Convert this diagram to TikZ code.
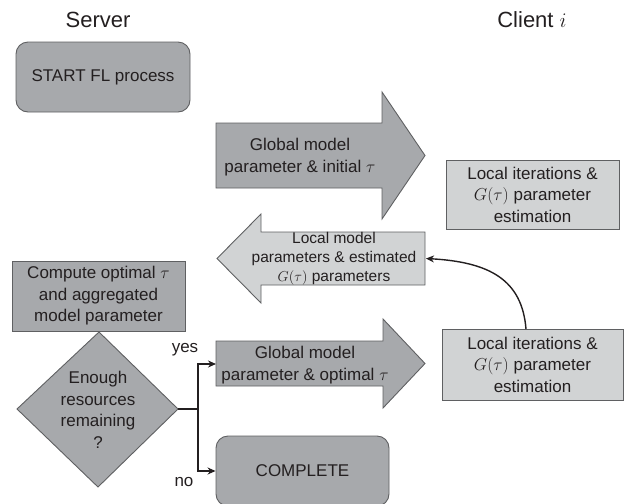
\documentclass[tikz,border=0pt]{standalone}
\usepackage{fontspec}
\setmainfont{Liberation Sans}
\usetikzlibrary{arrows.meta}

\definecolor{darkfill}{RGB}{167,169,172}
\definecolor{lightfill}{RGB}{209,211,212}
\definecolor{edgegray}{RGB}{95,96,98}
\definecolor{textgray}{RGB}{35,31,32}

\begin{document}
\begin{tikzpicture}[x=1pt, y=-1pt, line join=miter, >={Stealth[length=8pt,width=7pt]},
  box/.style={draw=edgegray, line width=0.9pt, text=textgray, align=center, inner sep=0pt, font=\fontsize{17}{21.5}\selectfont},
  txt/.style={text=textgray, align=center, inner sep=0pt, font=\fontsize{17}{21.5}\selectfont},
  title/.style={text=textgray, inner sep=0pt, font=\fontsize{22}{26}\selectfont},
  shaft/.style={draw=edgegray, line width=0.9pt},
  link/.style={draw=textgray, line width=1.4pt}]
\useasboundingbox (0,0) rectangle (630,504);
\node[title] (server) at (98,20) {Server};
\node[title] (client) at (532,20) {Client $i$};
\node[box, fill=darkfill, rounded corners=12pt, minimum width=174pt, minimum height=70pt] (start) at (103,77) {START FL process};
\draw[shaft, fill=darkfill] (216,123) -- (382,123) -- (382,92) -- (425,155.5) -- (382,219) -- (382,188) -- (216,188) -- cycle;
\node[txt] (initial) at (300,157) {Global model\\parameter \& initial $\tau$};
\node[box, fill=lightfill, minimum width=173pt, minimum height=69pt] (local1) at (532.5,194.5) {Local iterations \&\\$G(\tau)$ parameter\\estimation};
\draw[shaft, fill=lightfill] (425,232) -- (261,232) -- (261,214) -- (217,258.5) -- (261,303) -- (261,285) -- (425,285) -- cycle;
\node[txt, font=\fontsize{15.5}{19}\selectfont] (estimated) at (334,259) {Local model\\parameters \& estimated\\$G(\tau)$ parameters};
\coordinate (estin) at (426,258.5);
\node[box, fill=darkfill, minimum width=173pt, minimum height=70pt] (compute) at (98.5,296) {Compute optimal $\tau$\\and aggregated\\model parameter};
\draw[shaft, fill=darkfill] (99,332) -- (178,409) -- (98,487) -- (17,409) -- cycle;
\node[txt] (enough) at (98,410) {Enough\\resources\\remaining\\?};
\coordinate (dright) at (178,409);
\coordinate (split) at (198,409);
\draw[shaft, fill=darkfill] (216,341) -- (383,341) -- (383,319) -- (425,363.5) -- (383,408) -- (383,386) -- (216,386) -- cycle;
\node[txt] (optimal) at (305,365) {Global model\\parameter \& optimal $\tau$};
\coordinate (optin) at (216,364);
\node[box, fill=lightfill, minimum width=181pt, minimum height=71pt] (local2) at (532.5,364.5) {Local iterations \&\\$G(\tau)$ parameter\\estimation};
\coordinate (lup) at (526,329);
\node[box, fill=darkfill, rounded corners=12pt, minimum width=173pt, minimum height=70pt] (complete) at (302.5,471) {COMPLETE};
\draw[link] (dright) -- (split);
\draw[link, ->] (split) |- (optin);
\draw[link, ->] (split) |- (complete.west);
\node[txt] (yes) at (185,350) {yes};
\node[txt] (no) at (184,482) {no};
\draw[link, ->] (lup) .. controls (522,280) and (490,262) .. (estin);
\end{tikzpicture}
\end{document}
